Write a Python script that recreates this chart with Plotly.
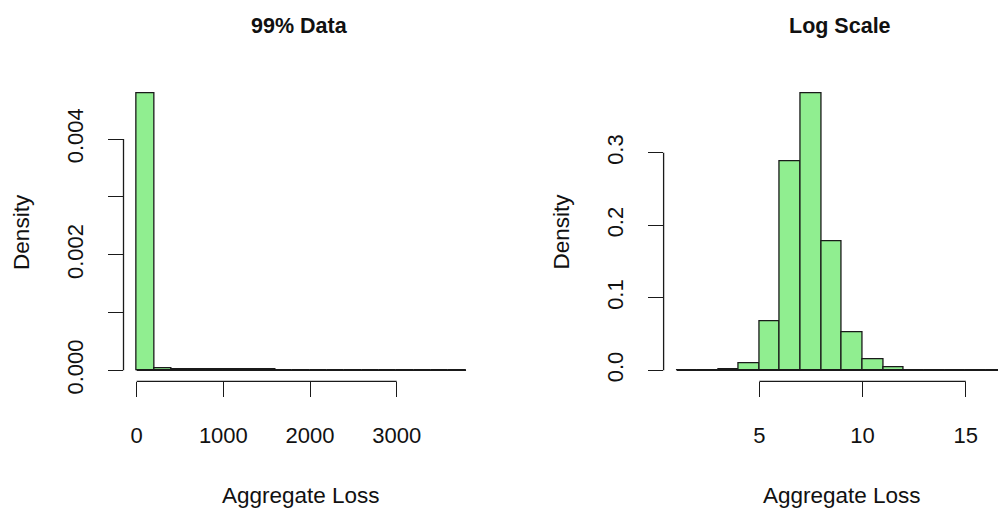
import plotly.graph_objects as go

# ---------------- data ----------------
# Left panel: histogram of aggregate loss (99% of data), breaks every 200
left_breaks = [0, 200, 400, 600, 800, 1000, 1200, 1400, 1600, 1800, 2000, 2200,
               2400, 2600, 2800, 3000, 3200, 3400, 3600, 3800]
left_density = [0.00479, 0.00003, 0.000025, 0.00002, 0.00002, 0.000018, 0.000017,
                0.000017, 0, 0, 0, 0, 0, 0, 0, 0, 0, 0, 0]
left_xticks = [0, 1000, 2000, 3000]
left_yticks = [0.000, 0.001, 0.002, 0.003, 0.004]
left_ylabels = ["0.000", "", "0.002", "", "0.004"]

# Right panel: histogram of log(aggregate loss), unit breaks
right_breaks = list(range(1, 18))
right_density = [0, 0, 0.0018, 0.0094, 0.0672, 0.289, 0.382, 0.178, 0.052, 0.0148,
                 0.004, 0, 0, 0, 0, 0]
right_xticks = [5, 10, 15]
right_yticks = [0.0, 0.1, 0.2, 0.3]
right_ylabels = ["0.0", "0.1", "0.2", "0.3"]

titles = ["99% Data", "Log Scale"]
xlabel = "Aggregate Loss"
ylabel = "Density"

# ---------------- layout constants (pixels) ----------------
W, H = 998, 511
PLOT_TOP, PLOT_BOT = 84.5, 391.4
LEFT_PX = (123.5, 479.2)
RIGHT_PX = (663.6, 1020.3)
FONT = "Liberation Sans, Arial, sans-serif"
FILL = "#90EE90"
INK = "#1a1a1a"

fig = go.Figure()


def add_hist(breaks, dens, xa, ya):
    centers = [(a + b) / 2 for a, b in zip(breaks[:-1], breaks[1:])]
    widths = [b - a for a, b in zip(breaks[:-1], breaks[1:])]
    # baseline (zero-height bars drawn by R as a line)
    fig.add_trace(go.Scatter(x=[breaks[0], breaks[-1]], y=[0, 0], mode="lines",
                             line=dict(color=INK, width=1.2), xaxis=xa, yaxis=ya,
                             showlegend=False, hoverinfo="skip"))
    fig.add_trace(go.Bar(x=centers, y=dens, width=widths, base=0,
                         marker=dict(color=FILL, line=dict(color=INK, width=1.3)),
                         xaxis=xa, yaxis=ya, showlegend=False))


add_hist(left_breaks, left_density, "x", "y")
add_hist(right_breaks, right_density, "x2", "y2")


def ranges(breaks, dens, px, clip_right=None):
    lo, hi = breaks[0], breaks[-1]
    span = hi - lo
    xr = [lo - 0.04 * span, hi + 0.04 * span]
    dom = [px[0] / W, px[1] / W]
    if clip_right is not None and px[1] > clip_right:
        frac = (clip_right - px[0]) / (px[1] - px[0])
        xr = [xr[0], xr[0] + (xr[1] - xr[0]) * frac]
        dom = [px[0] / W, clip_right / W]
    ym = max(dens)
    yr = [-0.04 * ym, 1.04 * ym]
    return xr, dom, yr


ydom = [1 - PLOT_BOT / H, 1 - PLOT_TOP / H]
lxr, ldom, lyr = ranges(left_breaks, left_density, LEFT_PX)
rxr, rdom, ryr = ranges(right_breaks, right_density, RIGHT_PX, clip_right=W)

tickfont = dict(family=FONT, size=22, color="#111111")
common_x = dict(showgrid=False, zeroline=False, showline=False, ticks="outside",
                ticklen=15, tickwidth=1.3, tickcolor=INK, tickfont=tickfont,
                ticklabelstandoff=19, fixedrange=True)
common_y = dict(showgrid=False, zeroline=False, showline=False, ticks="outside",
                ticklen=15, tickwidth=1.3, tickcolor=INK, tickfont=tickfont,
                tickangle=-90, ticklabelstandoff=16, fixedrange=True)

fig.update_layout(
    width=W, height=H, margin=dict(l=0, r=0, t=0, b=0),
    paper_bgcolor="white", plot_bgcolor="white", bargap=0, barmode="overlay",
    xaxis=dict(domain=ldom, range=lxr, anchor="y", tickvals=left_xticks, **common_x),
    yaxis=dict(domain=ydom, range=lyr, anchor="x", tickvals=left_yticks,
               ticktext=left_ylabels, **common_y),
    xaxis2=dict(domain=rdom, range=rxr, anchor="y2", tickvals=right_xticks, **common_x),
    yaxis2=dict(domain=ydom, range=ryr, anchor="x2", tickvals=right_yticks,
                ticktext=right_ylabels, **common_y),
)

# partial axis lines (R style: only between first and last tick)
for xa, ya, xt, yt in [("x", "y", left_xticks, left_yticks),
                       ("x2", "y2", right_xticks, right_yticks)]:
    fig.add_shape(type="line", xref=xa, yref=f"{ya} domain", x0=xt[0], x1=xt[-1],
                  y0=0, y1=0, line=dict(color=INK, width=1.3))
    fig.add_shape(type="line", xref=f"{xa} domain", yref=ya, x0=0, x1=0,
                  y0=yt[0], y1=yt[-1], line=dict(color=INK, width=1.3))

# titles and axis labels
for px, title in zip([LEFT_PX, RIGHT_PX], titles):
    cx = (px[0] + px[1]) / 2 / W
    fig.add_annotation(text=f"<b>{title}</b>", xref="paper", yref="paper", x=cx - 2 / W,
                       y=1 - 27 / H, xanchor="center", yanchor="middle", showarrow=False,
                       font=dict(family=FONT, size=21.5, color="#111111"))
    fig.add_annotation(text=xlabel, xref="paper", yref="paper", x=cx,
                       y=1 - 508 / H, xanchor="center", yanchor="middle", showarrow=False,
                       font=dict(family=FONT, size=22.5, color="#111111"))

for xpx in [22, 561.7]:
    fig.add_annotation(text=ylabel, xref="paper", yref="paper", x=xpx / W,
                       y=1 - (PLOT_TOP + PLOT_BOT) / 2 / H, xanchor="center",
                       yanchor="middle", textangle=-90, showarrow=False,
                       font=dict(family=FONT, size=22.5, color="#111111"))

fig.write_html("out.html")
